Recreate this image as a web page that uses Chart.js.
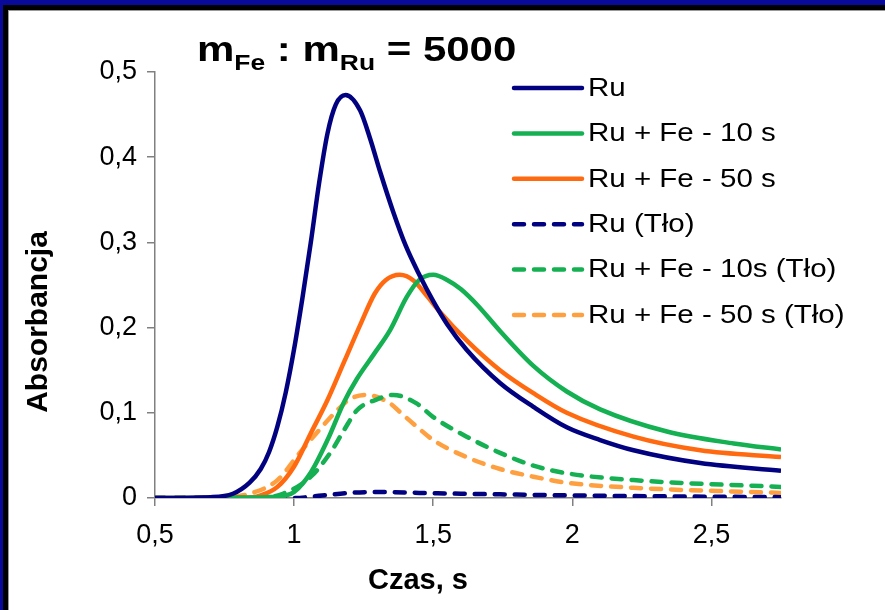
<!DOCTYPE html>
<html>
<head>
<meta charset="utf-8">
<script src="https://cdn.jsdelivr.net/npm/chart.js@4/dist/chart.umd.min.js"></script>
<style>
  html, body { margin: 0; padding: 0; background: #fff; overflow: hidden; }
  #wrap { position: relative; width: 885px; height: 610px; overflow: hidden; }
  #chart { position: absolute; left: 0; top: 0; }
  .bar { position: absolute; }
</style>
</head>
<body>
<div id="wrap">
  <canvas id="chart" width="885" height="610"></canvas>
  <div class="bar" style="left:0;top:0;width:885px;height:5px;background:#0a0a9a"></div>
  <div class="bar" style="left:0;top:5px;width:885px;height:5px;background:#000"></div>
  <div class="bar" style="left:8px;top:10px;width:877px;height:1px;background:#999"></div>
  <div class="bar" style="left:0;top:0;width:3px;height:610px;background:#0a0a9a"></div>
  <div class="bar" style="left:3px;top:5px;width:5px;height:605px;background:#000"></div>
  <div class="bar" style="left:8px;top:10px;width:1px;height:600px;background:#999"></div>
</div>
<script>
// time axis (s) and absorbance
const ruX   = [0.5, 0.7, 0.78, 0.84, 0.88, 0.91, 0.94, 0.97, 1.0, 1.03, 1.06, 1.09, 1.12, 1.15, 1.185, 1.237, 1.273, 1.31, 1.356, 1.4, 1.45, 1.5, 1.55, 1.62, 1.74, 1.86, 1.98, 2.1, 2.22, 2.46, 2.75]
const ruY   = [0, 0.001, 0.005, 0.018, 0.034, 0.054, 0.084, 0.124, 0.175, 0.235, 0.3, 0.37, 0.428, 0.462, 0.473, 0.455, 0.422, 0.382, 0.336, 0.297, 0.262, 0.231, 0.204, 0.174, 0.135, 0.107, 0.083, 0.068, 0.056, 0.041, 0.032]

const fe10X = [0.5, 0.9, 0.97, 1.0, 1.06, 1.12, 1.18, 1.226, 1.285, 1.345, 1.405, 1.45, 1.5, 1.55, 1.6, 1.66, 1.74, 1.86, 1.98, 2.1, 2.34, 2.58, 2.75]
const fe10Y = [0, 0.001, 0.003, 0.007, 0.03, 0.068, 0.113, 0.14, 0.168, 0.197, 0.236, 0.256, 0.262, 0.256, 0.245, 0.226, 0.196, 0.155, 0.125, 0.104, 0.078, 0.064, 0.057]

const fe50X = [0.5, 0.85, 0.88, 0.94, 1.0, 1.06, 1.12, 1.18, 1.24, 1.29, 1.33, 1.38, 1.43, 1.48, 1.525, 1.62, 1.74, 1.86, 1.98, 2.22, 2.46, 2.75]
const fe50Y = [0, 0.001, 0.003, 0.013, 0.037, 0.076, 0.115, 0.16, 0.205, 0.24, 0.256, 0.262, 0.255, 0.236, 0.218, 0.185, 0.15, 0.123, 0.1, 0.072, 0.056, 0.048]

const ruBgX = [0.5, 1.0, 1.1, 1.2, 1.31, 1.45, 1.6, 1.8, 2.0, 2.3, 2.75]
const ruBgY = [0, 0, 0.003, 0.006, 0.007, 0.006, 0.005, 0.004, 0.003, 0.002, 0.001]

const fe10BgX = [0.5, 0.9, 0.96, 1.06, 1.13, 1.18, 1.226, 1.3, 1.357, 1.44, 1.5, 1.62, 1.74, 1.86, 1.98, 2.22, 2.75]
const fe10BgY = [0, 0.001, 0.005, 0.025, 0.053, 0.08, 0.103, 0.116, 0.121, 0.111, 0.095, 0.072, 0.053, 0.038, 0.029, 0.021, 0.013]

const fe50BgX = [0.5, 0.75, 0.84, 0.94, 1.02, 1.08, 1.155, 1.2, 1.26, 1.345, 1.38, 1.44, 1.5, 1.62, 1.74, 1.86, 1.98, 2.22, 2.75]
const fe50BgY = [0, 0.001, 0.005, 0.021, 0.053, 0.076, 0.103, 0.116, 0.121, 0.111, 0.101, 0.084, 0.068, 0.048, 0.034, 0.025, 0.018, 0.012, 0.006]

const seriesNames = ['Ru', 'Ru + Fe - 10 s', 'Ru + Fe - 50 s', 'Ru (Tło)', 'Ru + Fe - 10s (Tło)', 'Ru + Fe - 50 s (Tło)']
const xTickLabels = ['0,5', '1', '1,5', '2', '2,5']
const yTickLabels = ['0', '0,1', '0,2', '0,3', '0,4', '0,5']
const xTitle = 'Czas, s'
const yTitle = 'Absorbancja'

const navy = '#020280'
const green = '#14b052'
const orange = '#ff6a10'
const lightOrange = '#ffa040'
const dash = [10, 10]
const tickFont = { family: '"Liberation Sans", Arial', size: 27 }

function pts(xs, ys) {
    return xs.map((x, i) => ({ x: x, y: ys[i] }))
}

function line(label, xs, ys, color, dashed) {
    return {
        label: label,
        data: pts(xs, ys),
        borderColor: color,
        backgroundColor: color,
        borderWidth: 4.5,
        borderDash: dashed ? dash : [],
        borderCapStyle: dashed ? 'round' : 'butt',
        pointRadius: 0,
        cubicInterpolationMode: 'monotone',
        fill: false
    }
}

// title with subscripts
const titlePlugin = {
    id: 'massTitle',
    afterDraw(chart) {
        const ctx = chart.ctx
        const parts = [
            ['m', false], ['Fe', true], [' : m', false], ['Ru', true], [' = 5000', false]
        ]
        ctx.save()
        ctx.translate(197, 61)
        ctx.scale(1.2, 1)
        ctx.fillStyle = '#000'
        ctx.textBaseline = 'alphabetic'
        let x = 0
        parts.forEach(p => {
            ctx.font = p[1] ? 'bold 22px "Liberation Sans", Arial' : 'bold 35px "Liberation Sans", Arial'
            ctx.fillText(p[0], x, p[1] ? 9 : 0)
            x += ctx.measureText(p[0]).width
        })
        ctx.restore()
    }
}

// axis titles sit off-centre in the original
const axisTitlePlugin = {
    id: 'axisTitles',
    afterDraw(chart) {
        const ctx = chart.ctx
        ctx.save()
        ctx.fillStyle = '#000'
        ctx.font = 'bold 29px "Liberation Sans", Arial'
        ctx.textAlign = 'center'
        ctx.textBaseline = 'alphabetic'
        ctx.fillText(xTitle, 418, 589)
        ctx.font = 'bold 30px "Liberation Sans", Arial'
        ctx.translate(47, 322)
        ctx.rotate(-Math.PI / 2)
        ctx.fillText(yTitle, 0, 0)
        ctx.restore()
    }
}

const legendPlugin = {
    id: 'lineLegend',
    afterDraw(chart) {
        const ctx = chart.ctx
        chart.data.datasets.forEach((ds, i) => {
            const y = 88 + i * 45.4
            ctx.save()
            ctx.strokeStyle = ds.borderColor
            ctx.lineWidth = 4.5
            ctx.lineCap = 'round'
            ctx.setLineDash(ds.borderDash)
            ctx.beginPath()
            ctx.moveTo(514, y)
            ctx.lineTo(582, y)
            ctx.stroke()
            ctx.setLineDash([])
            ctx.translate(588, y)
            ctx.scale(1.18, 1)
            ctx.fillStyle = '#000'
            ctx.font = '25px "Liberation Sans", Arial'
            ctx.textBaseline = 'middle'
            ctx.fillText(ds.label, 0, 1)
            ctx.restore()
        })
    }
}

let chart = null

function initChart() {
    const ctx = document.getElementById('chart').getContext('2d')
    chart = new Chart(ctx, {
        type: 'line',
        data: {
            datasets: [
                line(seriesNames[0], ruX, ruY, navy, false),
                line(seriesNames[1], fe10X, fe10Y, green, false),
                line(seriesNames[2], fe50X, fe50Y, orange, false),
                line(seriesNames[3], ruBgX, ruBgY, navy, true),
                line(seriesNames[4], fe10BgX, fe10BgY, green, true),
                line(seriesNames[5], fe50BgX, fe50BgY, lightOrange, true)
            ]
        },
        options: {
            responsive: false,
            animation: false,
            layout: {
                padding: { left: 0, top: 72, right: 104, bottom: 0 }
            },
            plugins: {
                legend: { display: false },
                title: { display: false },
                tooltip: { enabled: false }
            },
            scales: {
                x: {
                    type: 'linear',
                    min: 0.5,
                    max: 2.75,
                    afterFit: s => { s.height = 112 },
                    ticks: {
                        stepSize: 0.5,
                        includeBounds: false,
                        padding: 13,
                        color: '#000',
                        font: tickFont,
                        callback: (v, i) => xTickLabels[i]
                    },
                    grid: {
                        drawOnChartArea: false,
                        drawTicks: true,
                        tickLength: 8,
                        color: '#808080',
                        lineWidth: 1.5
                    },
                    border: { display: true, color: '#808080', width: 1.5 }
                },
                y: {
                    min: 0,
                    max: 0.5,
                    afterFit: s => { s.width = 155 },
                    ticks: {
                        stepSize: 0.1,
                        padding: 10,
                        color: '#000',
                        font: tickFont,
                        callback: (v, i) => yTickLabels[i]
                    },
                    grid: {
                        drawOnChartArea: false,
                        drawTicks: true,
                        tickLength: 8,
                        color: '#808080',
                        lineWidth: 1.5
                    },
                    border: { display: true, color: '#808080', width: 1.5 }
                }
            }
        },
        plugins: [titlePlugin, axisTitlePlugin, legendPlugin]
    })
}

initChart()
</script>
</body>
</html>
